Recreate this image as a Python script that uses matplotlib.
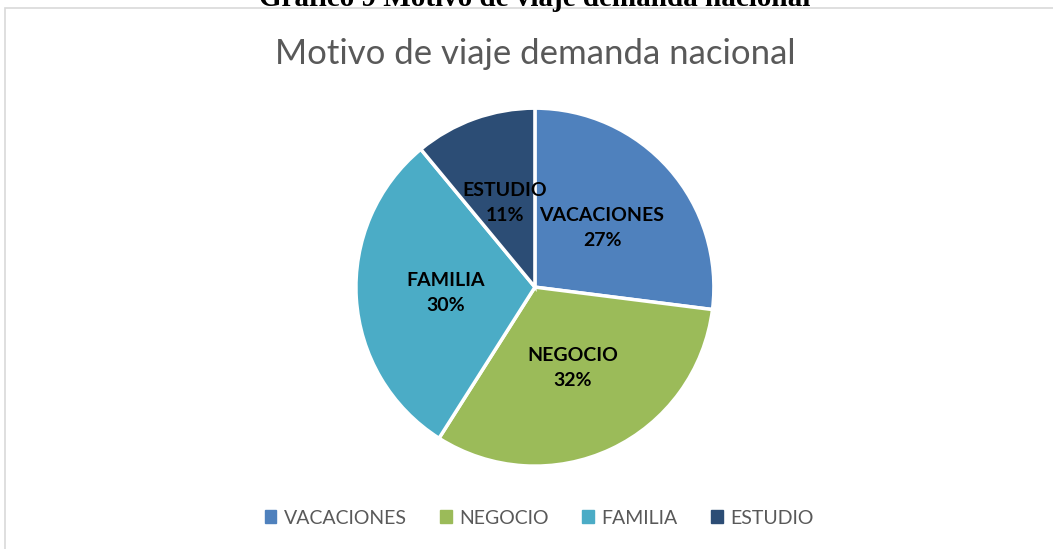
import matplotlib.pyplot as plt
from matplotlib.patches import Rectangle

categories = ['VACACIONES', 'NEGOCIO', 'FAMILIA', 'ESTUDIO']
values = [27, 32, 30, 11]
colors = ['#4F81BD', '#9BBB59', '#4BACC6', '#2C4D75']

fig = plt.figure(figsize=(10.53, 5.49), dpi=100)

# caption above the chart frame (cut off at the top edge, as in the source)
fig.text(0.508, 1 - 6/549, 'Gráfico 9 Motivo de viaje demanda nacional',
         ha='center', va='baseline', fontsize=21, fontweight='bold',
         family='Liberation Serif')

# chart frame
fig.patches.append(Rectangle((5/1053, -0.01), 1.05, 1 - 8/549 + 0.01,
                             transform=fig.transFigure, fill=False,
                             edgecolor='#D9D9D9', linewidth=1.2))

fig.text(0.508, 1 - 54/549, 'Motivo de viaje demanda nacional',
         ha='center', va='center', fontsize=25, color='#595959', family='Lato')

ax = fig.add_axes([0.508 - 0.170, 0.477 - 0.326, 0.340, 0.652])
labels = [f'{c}\n{v}%' for c, v in zip(categories, values)]
wedges, texts = ax.pie(values, colors=colors, startangle=90, counterclock=False,
                       labels=labels, labeldistance=0.5,
                       wedgeprops=dict(edgecolor='white', linewidth=2.5))
for t in texts:
    t.set_ha('center')
    t.set_va('center')
    t.set_fontsize(14)
    t.set_fontweight('bold')
    t.set_family('Lato')
    t.set_linespacing(1.6)
ax.set_xlim(-1, 1)
ax.set_ylim(-1, 1)
ax.set_aspect('equal')
ax.axis('off')

handles = [Rectangle((0, 0), 1, 1, color=c) for c in colors]
fig.legend(handles, categories, loc='center', bbox_to_anchor=(0.512, 1 - 518/549),
           ncol=4, frameon=False, handlelength=0.6, handleheight=0.6,
           handletextpad=0.4, columnspacing=1.7,
           prop={'family': 'Lato', 'size': 14}, labelcolor='#595959')

fig.savefig('out.png', dpi=100)
